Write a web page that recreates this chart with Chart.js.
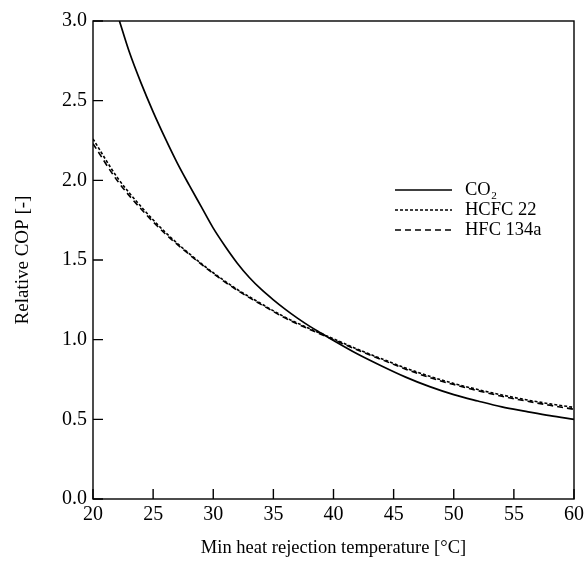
<!DOCTYPE html>
<html>
<head>
<meta charset="utf-8">
<script src="https://cdn.jsdelivr.net/npm/chart.js@4"></script>
<style>
   html, body { margin: 0; padding: 0; background: #fff; }
   #wrap { width: 588px; height: 563px; }
</style>
</head>
<body>
<div id="wrap"><canvas id="graphique"></canvas></div>
<script>
// Valeurs
const tempCO2 = [22.2, 23, 24, 25, 26, 27, 28, 29, 30, 31, 32, 33, 34, 35, 36, 37, 38, 39, 40, 42, 44, 46, 48, 50, 52, 54, 56, 58, 60];
const copCO2  = [3.0, 2.81, 2.61, 2.43, 2.265, 2.11, 1.97, 1.835, 1.70, 1.585, 1.48, 1.39, 1.315, 1.25, 1.19, 1.135, 1.085, 1.04, 0.995, 0.91, 0.835, 0.765, 0.705, 0.655, 0.615, 0.578, 0.55, 0.523, 0.50];

const tempHFC = [20, 22, 24, 26, 28, 30, 32, 34, 36, 38, 40, 42, 44, 46, 48, 50, 52, 54, 56, 58, 60];
const copHCFC22  = [2.26, 2.02, 1.835, 1.675, 1.54, 1.42, 1.315, 1.225, 1.14, 1.07, 1.005, 0.94, 0.88, 0.822, 0.77, 0.725, 0.687, 0.653, 0.623, 0.597, 0.575];
const copHFC134a = [2.23, 2.00, 1.82, 1.665, 1.535, 1.415, 1.31, 1.22, 1.135, 1.065, 1.0, 0.935, 0.875, 0.815, 0.762, 0.718, 0.68, 0.645, 0.615, 0.588, 0.563];

const xTicks = [20, 25, 30, 35, 40, 45, 50, 55, 60];
const yTicks = [0.0, 0.5, 1.0, 1.5, 2.0, 2.5, 3.0];

const FONT = "'Liberation Serif', 'DejaVu Serif', serif";

function points(xs, ys) {
   return xs.map((x, i) => ({ x: x, y: ys[i] }));
}

// cadre + graduations vers l'interieur + legende
const cadre = {
   id: 'cadre',
   afterDraw(chart) {
      const c = chart.ctx;
      const a = chart.chartArea;
      const sx = chart.scales.x, sy = chart.scales.y;
      c.save();
      c.strokeStyle = '#000';
      c.lineWidth = 1.4;
      c.strokeRect(a.left, a.top, a.right - a.left, a.bottom - a.top);
      c.beginPath();
      xTicks.forEach(v => {
         const px = sx.getPixelForValue(v);
         c.moveTo(px, a.bottom);
         c.lineTo(px, a.bottom - 10);
      });
      yTicks.forEach(v => {
         const py = sy.getPixelForValue(v);
         c.moveTo(a.left, py);
         c.lineTo(a.left + 10, py);
      });
      c.stroke();

      // legende
      const lx = 395, ly = 190, step = 20;
      chart.data.datasets.forEach((ds, i) => {
         const y = ly + i * step;
         c.beginPath();
         c.setLineDash(ds.borderDash || []);
         c.lineWidth = ds.borderWidth;
         c.moveTo(lx, y);
         c.lineTo(lx + 57, y);
         c.stroke();
         c.setLineDash([]);
         c.fillStyle = '#000';
         c.font = '18.5px ' + FONT;
         c.textBaseline = 'middle';
         c.fillText(ds.label, lx + 70, y);
      });
      c.restore();
   }
};

new Chart(document.getElementById('graphique'), {
   type: 'line',
   data: {
      datasets: [{
         label: 'CO₂',
         data: points(tempCO2, copCO2),
         borderColor: '#000',
         borderWidth: 1.7,
         pointRadius: 0,
         cubicInterpolationMode: 'monotone'
      }, {
         label: 'HCFC 22',
         data: points(tempHFC, copHCFC22),
         borderColor: '#000',
         borderWidth: 1.6,
         borderDash: [3, 2],
         pointRadius: 0,
         cubicInterpolationMode: 'monotone'
      }, {
         label: 'HFC 134a',
         data: points(tempHFC, copHFC134a),
         borderColor: '#000',
         borderWidth: 1.6,
         borderDash: [6, 4],
         pointRadius: 0,
         cubicInterpolationMode: 'monotone'
      }]
   },
   options: {
      responsive: true,
      maintainAspectRatio: false,
      animation: false,
      layout: { padding: { top: 21, right: 13, left: 0, bottom: 0 } },
      plugins: {
         legend: { display: false },
         tooltip: { enabled: false }
      },
      scales: {
         x: {
            type: 'linear',
            min: 20,
            max: 60,
            afterFit: s => { s.height = 64; },
            afterBuildTicks: s => { s.ticks = xTicks.map(v => ({ value: v })); },
            grid: { display: false, drawTicks: false, tickLength: 0 },
            border: { display: false },
            ticks: {
               color: '#000',
               padding: 4,
               font: { family: FONT, size: 20 },
               callback: v => v
            },
            title: {
               display: true,
               text: 'Min heat rejection temperature [°C]',
               color: '#000',
               font: { family: FONT, size: 18.5 },
               padding: { top: 0, bottom: 4 }
            }
         },
         y: {
            min: 0,
            max: 3,
            afterFit: s => { s.width = 93; },
            afterBuildTicks: s => { s.ticks = yTicks.map(v => ({ value: v })); },
            grid: { display: false, drawTicks: false, tickLength: 0 },
            border: { display: false },
            ticks: {
               color: '#000',
               padding: 6,
               font: { family: FONT, size: 20 },
               callback: v => v.toFixed(1)
            },
            title: {
               display: true,
               text: 'Relative COP [-]',
               color: '#000',
               font: { family: FONT, size: 19 },
               padding: { top: 12, bottom: 0 }
            }
         }
      }
   },
   plugins: [cadre]
});
</script>
</body>
</html>
